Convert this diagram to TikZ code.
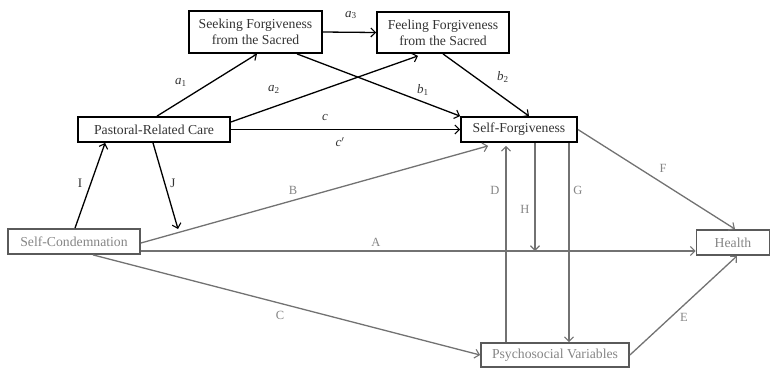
\documentclass[tikz,border=0pt]{standalone}
\usepackage{fontspec}
\setmainfont{Liberation Serif}
\usetikzlibrary{arrows.meta,calc}
\definecolor{inkdark}{HTML}{333333}
\definecolor{inkgray}{HTML}{858585}
\definecolor{linegray}{HTML}{727272}
\definecolor{boxgray}{HTML}{5A5A5A}
\tikzset{
  darkbox/.style={draw=black, line width=1.8pt, text=inkdark, inner sep=0pt,
    font=\fontsize{13.7}{16}\selectfont, align=center},
  graybox/.style={draw=boxgray, line width=1.8pt, text=inkgray, inner sep=0pt,
    font=\fontsize{13.7}{16}\selectfont, align=center},
  tip/.style={-{Straight Barb[length=4.5pt,width=9pt,line width=1.1pt]}},
  darkarrow/.style={tip, draw=black, line width=1.3pt},
  grayarrow/.style={tip, draw=linegray, line width=1.3pt},
  darklabel/.style={text=inkdark, font=\fontsize{13}{15}\selectfont, inner sep=0pt},
  graylabel/.style={text=inkgray, font=\fontsize{12.5}{15}\selectfont, inner sep=0pt},
}
\begin{document}
\begin{tikzpicture}[x=1pt,y=-1pt]
\useasboundingbox (0,0) rectangle (771,368);

% boxes
\node[darkbox, minimum width=133pt, minimum height=42pt] (seek) at (255.5,32) {Seeking Forgiveness\\from the Sacred};
\node[darkbox, minimum width=132pt, minimum height=41pt] (feel) at (443,32.5) {Feeling Forgiveness\\from the Sacred};
\node[darkbox, minimum width=152pt, minimum height=25pt] (past) at (154,129.5) {Pastoral-Related Care};
\node[darkbox, minimum width=116pt, minimum height=25pt] (sf) at (519,129.5) {Self-Forgiveness};
\node[graybox, minimum width=132pt, minimum height=25pt] (sc) at (74,241.5) {Self-Condemnation};
\node[graybox, minimum width=73pt, minimum height=25pt] (hl) at (733,242.5) {Health};
\node[graybox, minimum width=148pt, minimum height=24pt] (psy) at (555,355) {Psychosocial Variables};

% free ends
\coordinate (jend) at (178,229);
\coordinate (hend) at (535,251);

% black paths
\draw[darkarrow] ($(past.north)+(3,0)$) -- ($(seek.south)+(1.5,0)$);
\draw[darkarrow] ($(past.east)+(0,-7.5)$) -- ($(feel.south)+(-25,2)$);
\draw[darkarrow] (seek.east) -- (feel.west);
\draw[darkarrow] ($(seek.south)+(41.5,0)$) -- (sf.north west);
\draw[darkarrow] (feel.south) -- ($(sf.north)+(10,0)$);
\draw[darkarrow] (past.east) -- (sf.west);
\draw[darkarrow] ($(sc.north)+(1,0)$) -- ($(past.south west)+(28,0)$);
\draw[darkarrow] ($(past.south)+(-1,0)$) -- (jend);

% gray paths
\draw[grayarrow] ($(sc.east)+(0,1.5)$) -- ($(sf.south west)+(28,3)$);
\draw[grayarrow] ($(sc.east)+(0,9.5)$) -- ($(hl.west)+(0,8.5)$);
\draw[grayarrow] ($(sc.south)+(19,0)$) -- (psy.west);
\draw[grayarrow] ($(psy.north)+(-49,0)$) -- ($(sf.south)+(-13,3)$);
\draw[grayarrow] ($(sf.south)+(16,0)$) -- (hend);
\draw[grayarrow] ($(sf.south)+(50,0)$) -- ($(psy.north)+(14,0)$);
\draw[grayarrow] (sf.east) -- ($(hl.north)+(2,0)$);
\draw[grayarrow] (psy.east) -- ($(hl.south)+(4,0)$);

% path labels
\node[darklabel] (la1) at (181,82) {\textit{a}\textsubscript{1}};
\node[darklabel] (la2) at (274,89) {\textit{a}\textsubscript{2}};
\node[darklabel] (la3) at (351,15) {\textit{a}\textsubscript{3}};
\node[darklabel] (lb1) at (423,90) {\textit{b}\textsubscript{1}};
\node[darklabel] (lb2) at (503,77) {\textit{b}\textsubscript{2}};
\node[darklabel] (lc) at (325,117) {\textit{c}};
\node[darklabel] (lcp) at (340,142) {\textit{c}$'$};
\node[darklabel] (lI) at (80,183) {I};
\node[darklabel] (lJ) at (173,183) {J};
\node[graylabel] (lB) at (293,190) {B};
\node[graylabel] (lA) at (376,242) {A};
\node[graylabel] (lC) at (280,315) {C};
\node[graylabel] (lD) at (495,190) {D};
\node[graylabel] (lH) at (525,209) {H};
\node[graylabel] (lG) at (578,190) {G};
\node[graylabel] (lF) at (663,168) {F};
\node[graylabel] (lE) at (684,317) {E};
\end{tikzpicture}
\end{document}
